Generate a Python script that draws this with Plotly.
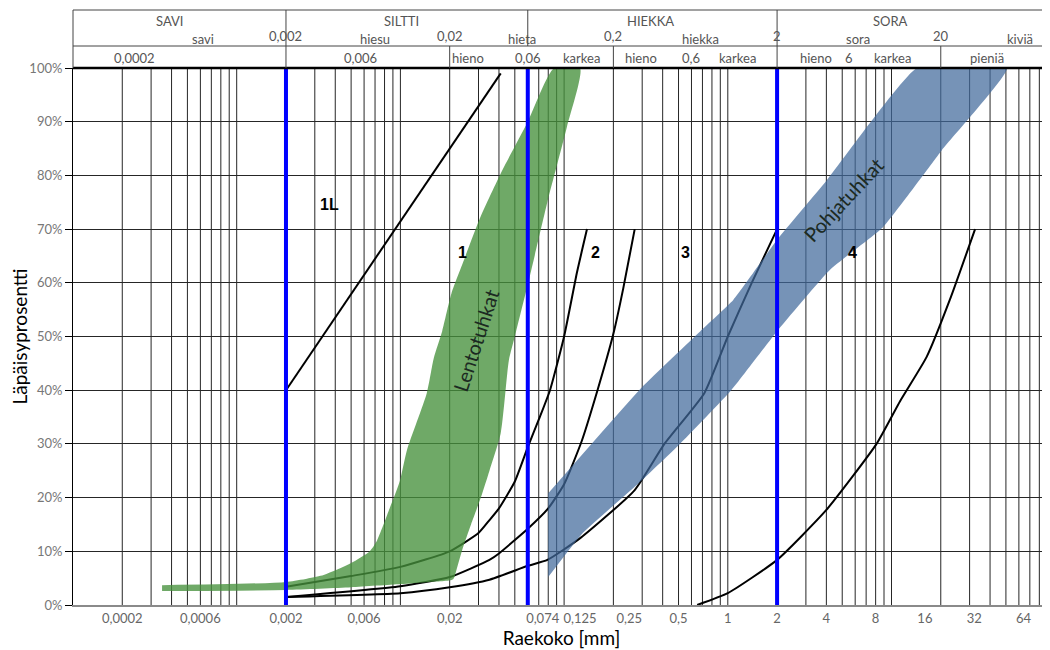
import math
import plotly.graph_objects as go

# ---------------- data ----------------
x_tick_vals = [0.0002, 0.0006, 0.002, 0.006, 0.02, 0.074, 0.125, 0.25, 0.5, 1, 2, 4, 8, 16, 32, 64]
x_tick_text = ["0,0002", "0,0006", "0,002", "0,006", "0,02", "0,074", "0,125", "0,25", "0,5",
               "1", "2", "4", "8", "16", "32", "64"]

curve_1L_x = [0.002, 0.041]
curve_1L_y = [40, 99]
curve1_x = [0.002, 0.005, 0.01, 0.02, 0.03, 0.035, 0.04, 0.05, 0.06, 0.07, 0.082, 0.1, 0.12, 0.138]
curve1_y = [3.4, 5.4, 7.1, 10, 13.4, 15.8, 18, 23, 29.4, 34.5, 40, 50, 62, 70]
curve2_x = [0.002, 0.01, 0.02, 0.035, 0.04, 0.06, 0.08, 0.1, 0.128, 0.16, 0.2, 0.23, 0.27]
curve2_y = [1.5, 3.5, 5.2, 8.4, 9.6, 14.2, 18, 22.5, 30.5, 40, 50.5, 59, 70]
curve3_x = [0.002, 0.01, 0.02, 0.035, 0.06, 0.079, 0.126, 0.27, 0.41, 0.72, 1.0, 1.4, 2.0]
curve3_y = [1.5, 2.2, 3.3, 4.7, 7.3, 8.4, 12.5, 21.4, 30, 39.5, 50, 60, 70]
curve4_x = [0.65, 1.0, 2.0, 4.0, 8.1, 11.3, 16.4, 22.7, 32.4]
curve4_y = [0, 2.2, 8.4, 17.7, 30, 38, 46.2, 56.8, 70]

# Lentotuhkat band (outline)
fly_ash_x = [0.00035, 0.002, 0.0034, 0.005, 0.0065, 0.0072, 0.0086, 0.0099, 0.011, 0.0145, 0.016,
             0.018, 0.0205, 0.025, 0.0306, 0.042, 0.06, 0.087,
             0.125, 0.104, 0.079, 0.0615, 0.05, 0.046, 0.041, 0.035, 0.031, 0.027, 0.024, 0.022, 0.021,
             0.015, 0.01, 0.005, 0.002, 0.00035]
fly_ash_y = [3.7, 4.3, 5.6, 7.8, 10, 12, 18, 23, 29, 39.5, 46,
             51, 58, 65, 72, 81, 90, 100,
             100, 89, 75, 61, 50, 45.6, 32, 25, 20, 15, 10.5, 6.5, 4.8,
             4.3, 3.9, 3.3, 2.8, 2.6]

# Pohjatuhkat band (outline)
bottom_ash_x = [0.08, 0.3, 0.68, 1.08, 2.0, 4.0, 7.4, 14.3,
                50.8, 20.3, 8.9, 4.2, 2.0, 1.05, 0.51, 0.27, 0.13, 0.08]
bottom_ash_y = [20.8, 40.6, 51, 56.8, 68, 79, 89.8, 100,
                100, 84.7, 70.4, 62.4, 51, 40, 30, 22, 13.4, 5.2]

boundary_lines = [0.002, 0.06, 2]

curve_labels = ["1L", "1", "2", "3", "4"]
curve_label_x = [0.0037, 0.0238, 0.155, 0.555, 5.74]
curve_label_y = [74.5, 65.7, 65.7, 65.7, 65.7]

band_labels = ["Lentotuhkat", "Pohjatuhkat"]
band_label_x = [0.029, 5.06]
band_label_y = [49.3, 75.4]
band_label_angle = [-72, -47]

main_classes = ["SAVI", "SILTTI", "HIEKKA", "SORA"]
main_class_x = [0.00039, 0.0102, 0.335, 9.8]
main_bounds = [0.002, 0.06, 2]
sub_classes = ["savi", "hiesu", "hieta", "hiekka", "sora", "kiviä"]
sub_class_x = [0.00062, 0.007, 0.055, 0.68, 6.2, 61]
sub_bounds = [0.002, 0.02, 0.2, 2, 20]
sub_bound_text = ["0,002", "0,02", "0,2", "2", "20"]
fraction_labels = ["0,0002", "0,006", "hieno", "0,06", "karkea", "hieno", "0,6", "karkea",
                   "hieno", "6", "karkea", "pieniä"]
fraction_x = [0.000236, 0.0057, 0.026, 0.06, 0.128, 0.295, 0.6, 1.14, 3.46, 5.5, 10.2, 38.3]

# ---------------- layout constants ----------------
PAGE_OFFSET = 8            # default body margin of the html page
W, H = 1050 - PAGE_OFFSET, 650 - PAGE_OFFSET
ML, MR, MT, MB = 73 - PAGE_OFFSET, 0, 68 - PAGE_OFFSET, 45
PX_PER_DEC = 163.7
X_MIN_LOG = -4
X_MAX_LOG = X_MIN_LOG + (W - ML - MR) / PX_PER_DEC
PLOT_H = H - MT - MB


def py(page_px):
    """paper y for a page pixel row above the plot area"""
    return 1 + (MT + PAGE_OFFSET - page_px) / PLOT_H


FONT = "Lato, 'Open Sans', sans-serif"
GRID = "#262626"
TXT = "#555555"

fig = go.Figure()

# black curves (drawn beneath the bands)
for cx, cy in [(curve_1L_x, curve_1L_y), (curve1_x, curve1_y), (curve2_x, curve2_y),
               (curve3_x, curve3_y), (curve4_x, curve4_y)]:
    fig.add_trace(go.Scatter(x=cx, y=cy, mode="lines",
                             line=dict(color="black", width=2, shape="spline", smoothing=0.5),
                             hoverinfo="skip", showlegend=False))

# bands
fig.add_trace(go.Scatter(x=fly_ash_x, y=fly_ash_y, mode="lines", fill="toself",
                         fillcolor="rgba(70,145,60,0.78)",
                         line=dict(width=0, shape="spline", smoothing=0.6),
                         hoverinfo="skip", showlegend=False))
fig.add_trace(go.Scatter(x=bottom_ash_x, y=bottom_ash_y, mode="lines", fill="toself",
                         fillcolor="rgba(65,105,155,0.72)",
                         line=dict(width=0, shape="spline", smoothing=0.4),
                         hoverinfo="skip", showlegend=False))

# blue boundary lines
for b in boundary_lines:
    fig.add_trace(go.Scatter(x=[b, b], y=[0, 100], mode="lines",
                             line=dict(color="#0000ff", width=4),
                             hoverinfo="skip", showlegend=False))

shapes = []
# vertical log grid
grid_x = [d * 10 ** e for e in range(-4, 3) for d in range(1, 10)]
grid_x = [g for g in grid_x if X_MIN_LOG < math.log10(g) < X_MAX_LOG]
for g in grid_x:
    shapes.append(dict(type="line", xref="x", yref="paper", x0=g, x1=g, y0=0, y1=1,
                       line=dict(color=GRID, width=1), layer="below"))

# thick line at 100 %
shapes.append(dict(type="line", xref="paper", yref="paper", x0=0, x1=1, y0=1, y1=1,
                   line=dict(color="black", width=2.5)))
# header frame
HDR_TOP = py(10)
HDR_MID = py(46)
shapes.append(dict(type="line", xref="paper", yref="paper", x0=0, x1=1, y0=HDR_TOP, y1=HDR_TOP,
                   line=dict(color="#444", width=1)))
shapes.append(dict(type="line", xref="paper", yref="paper", x0=0, x1=1, y0=HDR_MID, y1=HDR_MID,
                   line=dict(color="#444", width=1)))
shapes.append(dict(type="line", xref="paper", yref="paper", x0=0, x1=0, y0=1, y1=HDR_TOP,
                   line=dict(color="#444", width=1)))
for b in main_bounds:
    shapes.append(dict(type="line", xref="x", yref="paper", x0=b, x1=b, y0=HDR_MID, y1=HDR_TOP,
                       line=dict(color="#444", width=1)))
for b in sub_bounds:
    shapes.append(dict(type="line", xref="x", yref="paper", x0=b, x1=b, y0=1, y1=HDR_MID,
                       line=dict(color="#444", width=1)))

annotations = []


def hdr(text, x, page_y):
    annotations.append(dict(text=text, x=math.log10(x), y=py(page_y), xref="x", yref="paper",
                            xanchor="center", yanchor="middle", showarrow=False,
                            font=dict(family=FONT, size=13, color=TXT)))


for t, x in zip(main_classes, main_class_x):
    hdr(t, x, 21)
for t, x in zip(sub_bound_text, sub_bounds):
    hdr(t, x, 36)
for t, x in zip(sub_classes, sub_class_x):
    hdr(t, x, 39)
for t, x in zip(fraction_labels, fraction_x):
    hdr(t, x, 58)

for t, x, y in zip(curve_labels, curve_label_x, curve_label_y):
    annotations.append(dict(text="<b>%s</b>" % t, x=math.log10(x), y=y, xref="x", yref="y",
                            xanchor="center", yanchor="middle", showarrow=False,
                            font=dict(family="'Liberation Sans', Arial, sans-serif", size=16,
                                      color="black")))
for t, x, y, a in zip(band_labels, band_label_x, band_label_y, band_label_angle):
    annotations.append(dict(text=t, x=math.log10(x), y=y, xref="x", yref="y", textangle=a,
                            xanchor="center", yanchor="middle", showarrow=False,
                            font=dict(family=FONT, size=20, color="#1c2a22")))

fig.update_layout(
    width=W, height=H,
    margin=dict(l=ML, r=MR, t=MT, b=MB, autoexpand=False),
    paper_bgcolor="white", plot_bgcolor="white",
    showlegend=False,
    shapes=shapes, annotations=annotations,
    font=dict(family=FONT),
    xaxis=dict(type="log", range=[X_MIN_LOG, X_MAX_LOG], tickmode="array",
               tickvals=x_tick_vals, ticktext=x_tick_text, showgrid=False, ticks="",
               tickfont=dict(family=FONT, size=13, color="#666"),
               showline=True, linecolor="#8a8a8a", linewidth=2, zeroline=False,
               title=dict(text="Raekoko [mm]", standoff=4,
                          font=dict(family=FONT, size=19, color="black"))),
    yaxis=dict(range=[0, 100], dtick=10, tick0=0, ticksuffix="%",
               showgrid=True, gridcolor=GRID, gridwidth=1, zeroline=False,
               showline=True, linecolor="black", linewidth=1,
               ticks="outside", ticklen=7, tickcolor="black",
               tickfont=dict(family=FONT, size=13, color="#777"),
               title=dict(text="Läpäisyprosentti", standoff=4,
                          font=dict(family=FONT, size=19, color="black"))),
)

fig.write_html("out.html")
